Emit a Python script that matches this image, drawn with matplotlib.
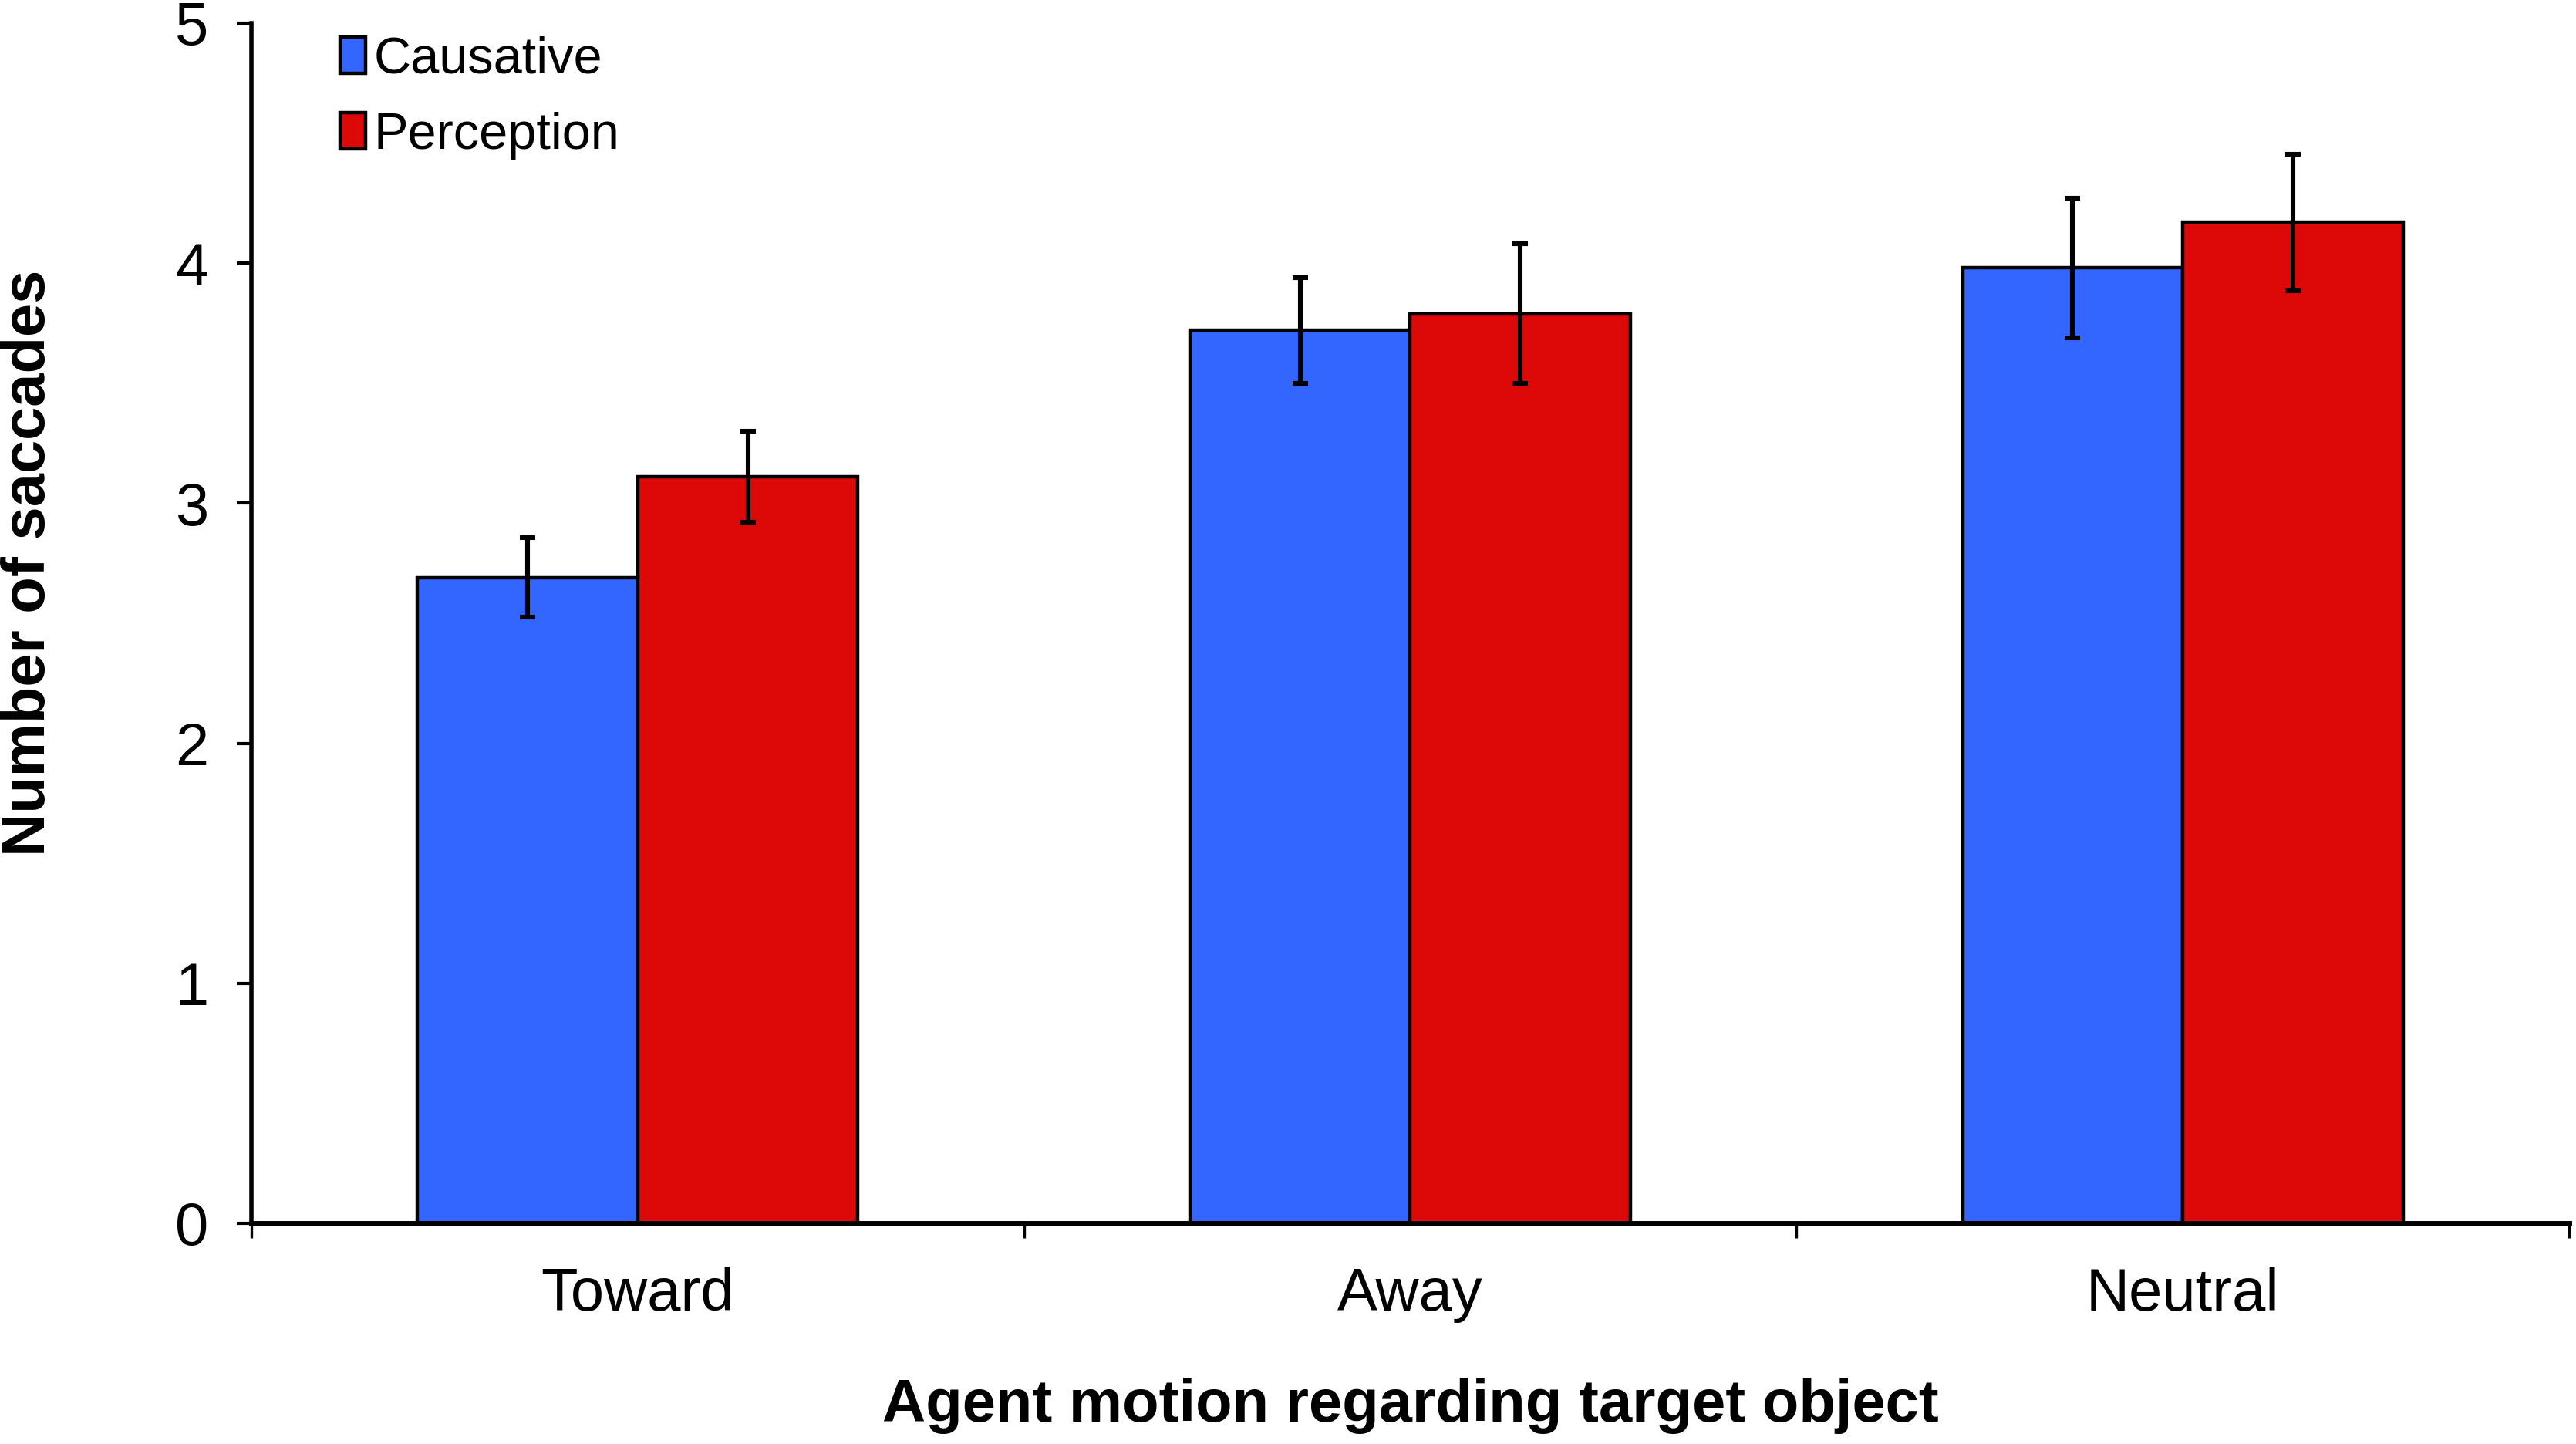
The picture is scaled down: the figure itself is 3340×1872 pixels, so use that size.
import numpy as np
import matplotlib
matplotlib.use('Agg')
import matplotlib.pyplot as plt
from matplotlib.patches import Patch

plt.rcParams['font.family'] = ['Liberation Sans', 'DejaVu Sans']

# data
categories = ['Toward', 'Away', 'Neutral']
causative = [2.69, 3.72, 3.98]
causative_err = [0.165, 0.22, 0.29]
perception = [3.11, 3.79, 4.17]
perception_err = [0.19, 0.29, 0.285]

blue = '#3366FF'
red = '#DD0808'

fig = plt.figure(figsize=(16.7, 9.36), dpi=200)
ax = fig.add_axes([0.0976, 0.1528, 0.8997, 0.8312])

x = np.arange(len(categories))
width = 0.285

err_kw = dict(ecolor='black', elinewidth=2.2, capsize=3.6, capthick=2.2)
ax.bar(x - width/2, causative, width, color=blue, edgecolor='black',
       linewidth=1.6, yerr=causative_err, error_kw=err_kw, zorder=2)
ax.bar(x + width/2, perception, width, color=red, edgecolor='black',
       linewidth=1.6, yerr=perception_err, error_kw=err_kw, zorder=2)

ax.set_xlim(-0.5, len(categories) - 0.5)
ax.set_ylim(0, 5)
ax.set_yticks(range(0, 6))

# ticks sit between the groups, labels at the group centres
ax.set_xticks(np.arange(-0.5, len(categories), 1.0))
ax.set_xticklabels([])
ax.set_xticks(x, minor=True)
ax.set_xticklabels(categories, minor=True)
ax.tick_params(axis='x', which='minor', length=0, pad=20, labelsize=28)
ax.tick_params(axis='x', which='major', length=7, width=1.2, direction='out')
ax.tick_params(axis='y', length=7, width=1.5, direction='out', pad=13, labelsize=28)

ax.spines['top'].set_visible(False)
ax.spines['right'].set_visible(False)
ax.spines['left'].set_linewidth(2)
ax.spines['bottom'].set_linewidth(2.5)

ax.set_xlabel('Agent motion regarding target object', fontsize=28, fontweight='bold')
ax.xaxis.set_label_coords(0.5, -0.152)
ax.xaxis.label.set_va('center')
ax.set_ylabel('Number of saccades', fontsize=28, fontweight='bold')
ax.yaxis.set_label_coords(-0.096, 0.55)
ax.yaxis.label.set_va('center')

handles = [Patch(facecolor=blue, edgecolor='black', linewidth=1.6, label='Causative'),
           Patch(facecolor=red, edgecolor='black', linewidth=1.6, label='Perception')]
ax.legend(handles=handles, loc='upper left', bbox_to_anchor=(0.025, 1.015),
          frameon=False, fontsize=24, handlelength=0.5, handleheight=0.7,
          handletextpad=0.15, labelspacing=0.54, borderaxespad=0.2)

fig.savefig('out.png', dpi=200, facecolor='white')
